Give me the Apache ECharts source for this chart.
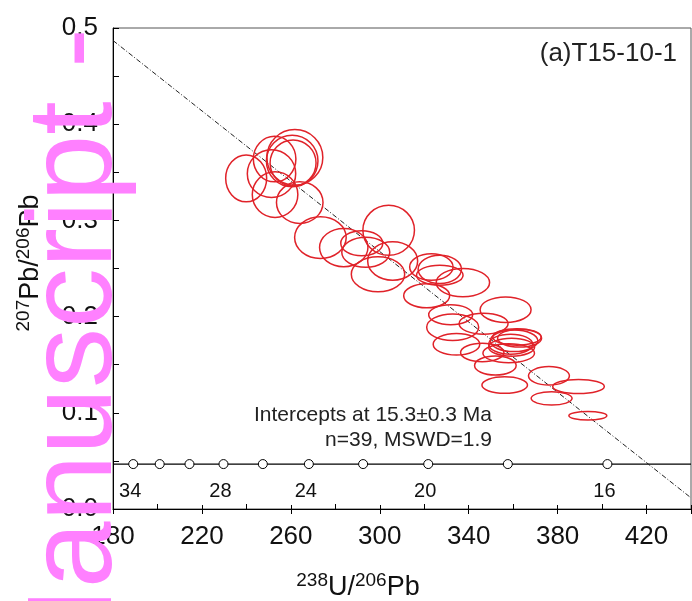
<!DOCTYPE html>
<html>
<head>
<meta charset="utf-8">
<script src="https://cdn.jsdelivr.net/npm/echarts@6/dist/echarts.min.js"></script>
<style>html,body{margin:0;padding:0;background:#fff}#c{width:692px;height:601px}</style>
</head>
<body>
<div id="c"></div>
<script>
// Ellipse centres (238U/206Pb, 207Pb/206Pb) and semi-axes (data units)
const ellipseX  = [239.9,252.7,251.3,261.8,260.6,261.0,252.9,264.0,273.3,283.8,304.0,291.9,293.7,305.8,299.2,323.2,327.0,327.0,337.4,321.1,356.6,331.9,332.8,346.7,334.5,361.7,360.4,358.9,358.0,346.1,352.0,356.2,376.1,389.4,377.3,393.6,362.9,359.3];
const ellipseY  = [0.3437,0.3638,0.3486,0.3655,0.3617,0.3596,0.3268,0.3185,0.2821,0.2718,0.2897,0.2762,0.2669,0.2578,0.2440,0.2516,0.2492,0.2430,0.2354,0.2217,0.2072,0.2020,0.1890,0.1926,0.1713,0.1789,0.1748,0.1713,0.1620,0.1627,0.1492,0.1288,0.1384,0.1274,0.1150,0.0969,0.1776,0.1682];
const ellipseRx = [9.21,9.57,10.88,12.58,11.60,10.34,10.25,10.47,11.60,10.88,11.60,9.44,10.79,11.24,12.00,9.75,9.75,10.47,12.00,10.34,11.46,9.89,11.69,11.01,10.47,10.88,10.70,9.89,11.60,9.75,9.35,10.25,9.21,11.60,9.21,8.54,9.89,10.34];
const ellipseRy = [0.0244,0.0237,0.0249,0.0289,0.0268,0.0239,0.0237,0.0216,0.0216,0.0199,0.0260,0.0130,0.0156,0.0199,0.0182,0.0138,0.0147,0.0104,0.0147,0.0125,0.0133,0.0104,0.0138,0.0109,0.0112,0.0086,0.0112,0.0104,0.0099,0.0096,0.0099,0.0086,0.0096,0.0073,0.0070,0.0044,0.0093,0.0093];

// Concordia (Tera-Wasserburg) age markers
const concordiaAges = [34,32,30,28,26,24,22,20,18,16];
const concordiaX    = [189.1,201.0,214.4,229.7,247.4,268.1,292.5,321.8,357.6,402.4];
const concordiaY    = 0.0467;
const labeledAges   = [34,28,24,20,16];

// Discordia regression line end points
const discordiaX = [180,440];
const discordiaY = [0.487,0.0116];

// Axis ticks
const xMin = 180, xMax = 440, xStep = 40;
const yMin = 0, yMax = 0.5, yStep = 0.1;

const FONT = '"Liberation Sans", Arial, Helvetica, sans-serif';

const ellipseData = ellipseX.map((x,i)=>[x, ellipseY[i], ellipseRx[i], ellipseRy[i]]);
const concData = concordiaX.map((x,i)=>[x, concordiaY, concordiaAges[i]]);

const chart = echarts.init(document.getElementById('c'), null, {renderer:'canvas'});
const grid = {left:113, top:28, right:1, bottom:92, show:true, borderColor:'#555', borderWidth:1, backgroundColor:'transparent'};

const xBase = {
  type:'value', min:xMin, max:xMax, interval:xStep, position:'bottom',
  splitLine:{show:false}
};
chart.setOption({
  animation:false,
  backgroundColor:'#fff',
  grid: grid,
  xAxis:[
    Object.assign({}, xBase, {
      axisLine:{show:true, onZero:false, lineStyle:{color:'#000', width:1}},
      axisTick:{show:true, inside:true, length:4, lineStyle:{color:'#000'}},
      minorTick:{show:true, splitNumber:2, length:5, lineStyle:{color:'#000'}},
      axisLabel:{show:true, margin:15, fontSize:26, color:'#111', fontFamily:FONT, showMaxLabel:false}
    }),
    Object.assign({}, xBase, {
      axisLine:{show:false, onZero:false},
      axisTick:{show:true, inside:false, length:5, lineStyle:{color:'#000'}},
      axisLabel:{show:false}
    })
  ],
  yAxis:{
    type:'value', min:yMin, max:yMax, interval:yStep,
    axisLine:{show:true, onZero:false, lineStyle:{color:'#000', width:1}},
    axisTick:{show:true, inside:true, length:6, lineStyle:{color:'#000'}},
    minorTick:{show:true, splitNumber:2, length:6, lineStyle:{color:'#000'}},
    splitLine:{show:false},
    axisLabel:{margin:15, fontSize:26, color:'#111', fontFamily:FONT, formatter:v=>v.toFixed(1)}
  },
  series:[
    {
      type:'line', xAxisIndex:0, data:[[xMin,concordiaY],[xMax,concordiaY]],
      symbol:'none', lineStyle:{color:'#000', width:1.2}, z:3, silent:true
    },
    {
      type:'scatter', xAxisIndex:0, data:concData, symbol:'circle', symbolSize:9,
      itemStyle:{color:'#fff', borderColor:'#000', borderWidth:1, opacity:1},
      label:{show:true, position:'bottom', distance:12, offset:[-3,0], fontSize:20, color:'#111', fontFamily:FONT,
        formatter:p=> labeledAges.indexOf(p.value[2])>=0 ? String(p.value[2]) : ''},
      z:4, silent:true
    },
    {
      type:'line', xAxisIndex:0, data:discordiaX.map((x,i)=>[x,discordiaY[i]]),
      symbol:'none', lineStyle:{color:'#222', width:1, type:[5,2,1,2]}, z:5, silent:true
    },
    {
      type:'custom', xAxisIndex:0, data:ellipseData, encode:{x:0, y:1}, z:6, silent:true,
      renderItem:function(params, api){
        const c = api.coord([api.value(0), api.value(1)]);
        const s = api.size([api.value(2), api.value(3)]);
        return {type:'ellipse', shape:{cx:c[0], cy:c[1], rx:s[0], ry:s[1]},
          style:{fill:null, stroke:'#e02229', lineWidth:1.5}};
      }
    }
  ],
  graphic:[
    {type:'text', x:677, y:54, z:50, style:{text:'(a)T15-10-1', font:'26px '+FONT, fill:'#222', textAlign:'right', textVerticalAlign:'middle'}},
    {type:'text', x:492, y:415.5, z:50, style:{text:'Intercepts at 15.3±0.3 Ma', font:'21px '+FONT, fill:'#222', textAlign:'right', textVerticalAlign:'middle'}},
    {type:'text', x:492, y:440.5, z:50, style:{text:'n=39, MSWD=1.9', font:'21px '+FONT, fill:'#222', textAlign:'right', textVerticalAlign:'middle'}},
    {type:'text', x:358, y:586.5, z:50, style:{
      text:'{s|238}{m|U/}{s|206}{m|Pb}', textAlign:'center', textVerticalAlign:'middle',
      rich:{
        s:{fontSize:19, fontFamily:FONT, fill:'#111', lineHeight:18, verticalAlign:'top'},
        m:{fontSize:27, fontFamily:FONT, fill:'#111', lineHeight:30, verticalAlign:'bottom'}
      }}},
    {type:'text', x:29.5, y:263, rotation:Math.PI/2, z:50, style:{
      text:'{s|207}{m|Pb/}{s|206}{m|Pb}', textAlign:'center', textVerticalAlign:'middle',
      rich:{
        s:{fontSize:19, fontFamily:FONT, fill:'#111', lineHeight:18, verticalAlign:'top'},
        m:{fontSize:27, fontFamily:FONT, fill:'#111', lineHeight:30, verticalAlign:'bottom'}
      }}},
    {type:'text', x:78, y:28, rotation:Math.PI/2, z:100, style:{
      text:'Manuscript -', font:'120px '+FONT, fill:'#ff80ff', textAlign:'right', textVerticalAlign:'middle'}}
  ]
});
</script>
</body>
</html>
